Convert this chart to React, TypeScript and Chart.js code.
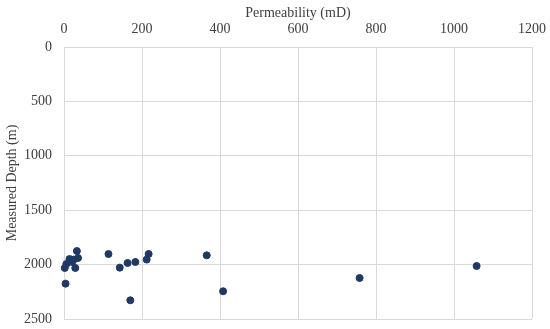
import React, { useEffect, useRef } from "react";
import { Chart, registerables } from "chart.js";

Chart.register(...registerables);

const permeability = [2, 4, 6, 14, 19, 21, 25, 29, 33, 36, 114, 143, 163, 170, 183, 212, 217, 366, 408, 758, 1058];
const depth = [2031, 2175, 1995, 1949, 1954, 1976, 1954, 2031, 1875, 1939, 1903, 2028, 1985, 2328, 1976, 1954, 1902, 1915, 2245, 2123, 2013];
const xTicks = [0, 200, 400, 600, 800, 1000, 1200];
const yTicks = [0, 500, 1000, 1500, 2000, 2500];

const FONT = "'Liberation Serif', 'DejaVu Serif', serif";

export default function App() {
  const ref = useRef<HTMLCanvasElement | null>(null);
  useEffect(() => {
    if (!ref.current) return;
    const pts = permeability.map((x, i) => ({ x, y: depth[i] }));
    const chart = new Chart(ref.current, {
      type: "scatter",
      data: {
        datasets: [
          {
            data: pts,
            backgroundColor: "#203864",
            borderColor: "#203864",
            pointRadius: 3.5,
            pointHoverRadius: 3.5,
            clip: false as any,
          },
        ],
      },
      options: {
        animation: false,
        responsive: false,
        maintainAspectRatio: false,
        layout: { padding: { left: 4, right: 18, top: 0, bottom: 10 } },
        plugins: { legend: { display: false }, tooltip: { enabled: false } },
        scales: {
          x: {
            type: "linear",
            position: "top",
            min: 0,
            max: 1200,
            afterBuildTicks: (s: any) => {
              s.ticks = xTicks.map((v) => ({ value: v }));
            },
            afterFit: (s: any) => {
              s.height = 47;
              s.paddingLeft = 0;
              s.paddingRight = 0;
            },
            ticks: { color: "#404040", font: { family: FONT, size: 14 }, padding: 9, maxRotation: 0, callback: (v: any) => String(v) },
            grid: { color: "#d9d9d9", drawTicks: false },
            border: { color: "#d9d9d9" },
            title: { display: true, text: "Permeability (mD)", color: "#404040", font: { family: FONT, size: 14 }, padding: { top: 5, bottom: 0 } },
          },
          y: {
            type: "linear",
            reverse: true,
            min: 0,
            max: 2500,
            afterBuildTicks: (s: any) => {
              s.ticks = yTicks.map((v) => ({ value: v }));
            },
            afterFit: (s: any) => {
              s.width = 60;
              s.paddingTop = 0;
              s.paddingBottom = 0;
            },
            ticks: { color: "#404040", font: { family: FONT, size: 14 }, padding: 12, callback: (v: any) => String(v) },
            grid: { color: "#d9d9d9", drawTicks: false },
            border: { color: "#d9d9d9" },
            title: { display: true, text: "Measured Depth (m)", color: "#404040", font: { family: FONT, size: 14 }, padding: { top: 0, bottom: 0 } },
          },
        },
      },
    });
    return () => chart.destroy();
  }, []);
  return (
    <div style={{ position: "fixed", left: 0, top: 0, width: 550, height: 329, background: "#fff" }}>
      <canvas ref={ref} width={550} height={329} style={{ width: 550, height: 329, display: "block" }} />
    </div>
  );
}
